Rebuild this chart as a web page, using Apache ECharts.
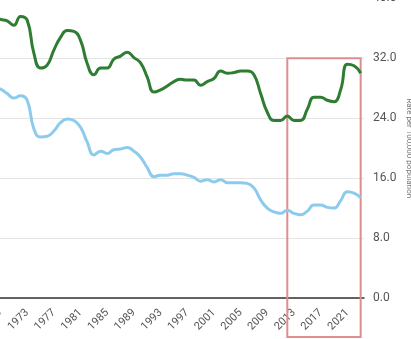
<!DOCTYPE html>
<html>
<head>
<meta charset="utf-8">
<script src="https://cdn.jsdelivr.net/npm/echarts@6/dist/echarts.min.js"></script>
<style>
  html, body { margin: 0; padding: 0; background: #fff; }
  #chart { width: 411px; height: 339px; }
</style>
</head>
<body>
<div id="chart"></div>
<script>
// Annual rates per 100,000 population
const years = [];
for (let y = 1968; y <= 2023; y++) years.push(String(y));

const groupRate = [
  37.6, 37.2, 37.0, 36.4, 37.6, 37.1, 32.7, 30.7, 31.1, 33.1,
  34.8, 35.7, 35.6, 34.4, 31.3, 29.8, 30.7, 30.7, 31.9, 32.3,
  32.8, 32.1, 31.4, 29.5, 27.5, 27.8, 28.3, 28.9, 29.2, 29.1,
  29.1, 28.4, 28.9, 29.3, 30.3, 30.0, 30.1, 30.3, 30.3, 29.8,
  27.3, 24.8, 23.7, 23.7, 24.3, 23.7, 23.7, 25.2, 26.8, 26.8,
  26.4, 26.2, 27.8, 31.2, 31.0, 30.0
];

const nationalRate = [
  28.2, 27.9, 27.3, 26.7, 27.0, 26.4, 22.6, 21.5, 21.6, 22.3,
  23.4, 23.9, 23.7, 22.8, 20.8, 19.1, 19.6, 19.3, 19.8, 19.9,
  20.1, 19.6, 18.8, 17.4, 16.2, 16.4, 16.4, 16.6, 16.6, 16.4,
  16.1, 15.6, 15.8, 15.5, 15.8, 15.4, 15.4, 15.4, 15.3, 14.7,
  13.1, 12.0, 11.5, 11.3, 11.7, 11.3, 11.1, 11.6, 12.4, 12.4,
  12.1, 12.0, 13.0, 14.2, 14.0, 13.4
];

// Period outlined by the box
const highlightStart = '2012';
const highlightEnd = '2023';
const highlightTop = 32;

const yTicks = [0, 8, 16, 24, 32, 40];

const chart = echarts.init(document.getElementById('chart'), null, { renderer: 'canvas' });

chart.setOption({
  animation: false,
  textStyle: { fontFamily: 'Roboto, Arial, sans-serif' },
  grid: {
    left: -9.5, right: 47, top: -1.6, bottom: 41,
    containLabel: false,
    outerBoundsMode: 'none'
  },
  xAxis: {
    type: 'category',
    data: years,
    boundaryGap: true,
    axisLine: { show: true, lineStyle: { color: '#333', width: 1.5 } },
    axisTick: { show: false },
    axisLabel: {
      rotate: 45,
      margin: 13,
      fontSize: 11,
      color: '#555',
      interval: (i, v) => (Number(v) - 1969) % 4 === 0
    },
    splitLine: { show: false }
  },
  yAxis: {
    type: 'value',
    position: 'right',
    min: yTicks[0],
    max: yTicks[yTicks.length - 1],
    interval: 8,
    axisLine: { show: false },
    axisTick: { show: false },
    axisLabel: {
      margin: 9,
      fontSize: 12,
      color: '#555',
      formatter: v => v.toFixed(1)
    },
    splitLine: { show: true, lineStyle: { color: '#e4e4e4', width: 1 } },
    name: 'Rate per 100,000 population',
    nameLocation: 'middle',
    nameRotate: -90,
    nameGap: 41,
    nameMoveOverlap: false,
    nameTextStyle: { fontSize: 8, color: '#777' }
  },
  series: [
    {
      name: 'Group',
      type: 'line',
      data: groupRate,
      smooth: 0.5,
      symbol: 'none',
      lineStyle: { color: '#2e7d32', width: 3 },
      z: 3
    },
    {
      name: 'National',
      type: 'line',
      data: nationalRate,
      smooth: 0.5,
      symbol: 'none',
      lineStyle: { color: '#8ccbed', width: 3 },
      z: 3
    }
  ]
});

// Outline box around the recent period, placed from data coordinates
const topLeft = chart.convertToPixel({ xAxisIndex: 0, yAxisIndex: 0 }, [highlightStart, highlightTop]);
const bottomRight = chart.convertToPixel({ xAxisIndex: 0, yAxisIndex: 0 }, [highlightEnd, 0]);
const boxBelowAxis = 39;

chart.setOption({
  graphic: [{
    type: 'rect',
    z: 1,
    shape: {
      x: topLeft[0],
      y: topLeft[1],
      width: bottomRight[0] - topLeft[0],
      height: bottomRight[1] + boxBelowAxis - topLeft[1]
    },
    style: { fill: 'none', stroke: '#de8e8e', lineWidth: 2 }
  }]
});
</script>
</body>
</html>
